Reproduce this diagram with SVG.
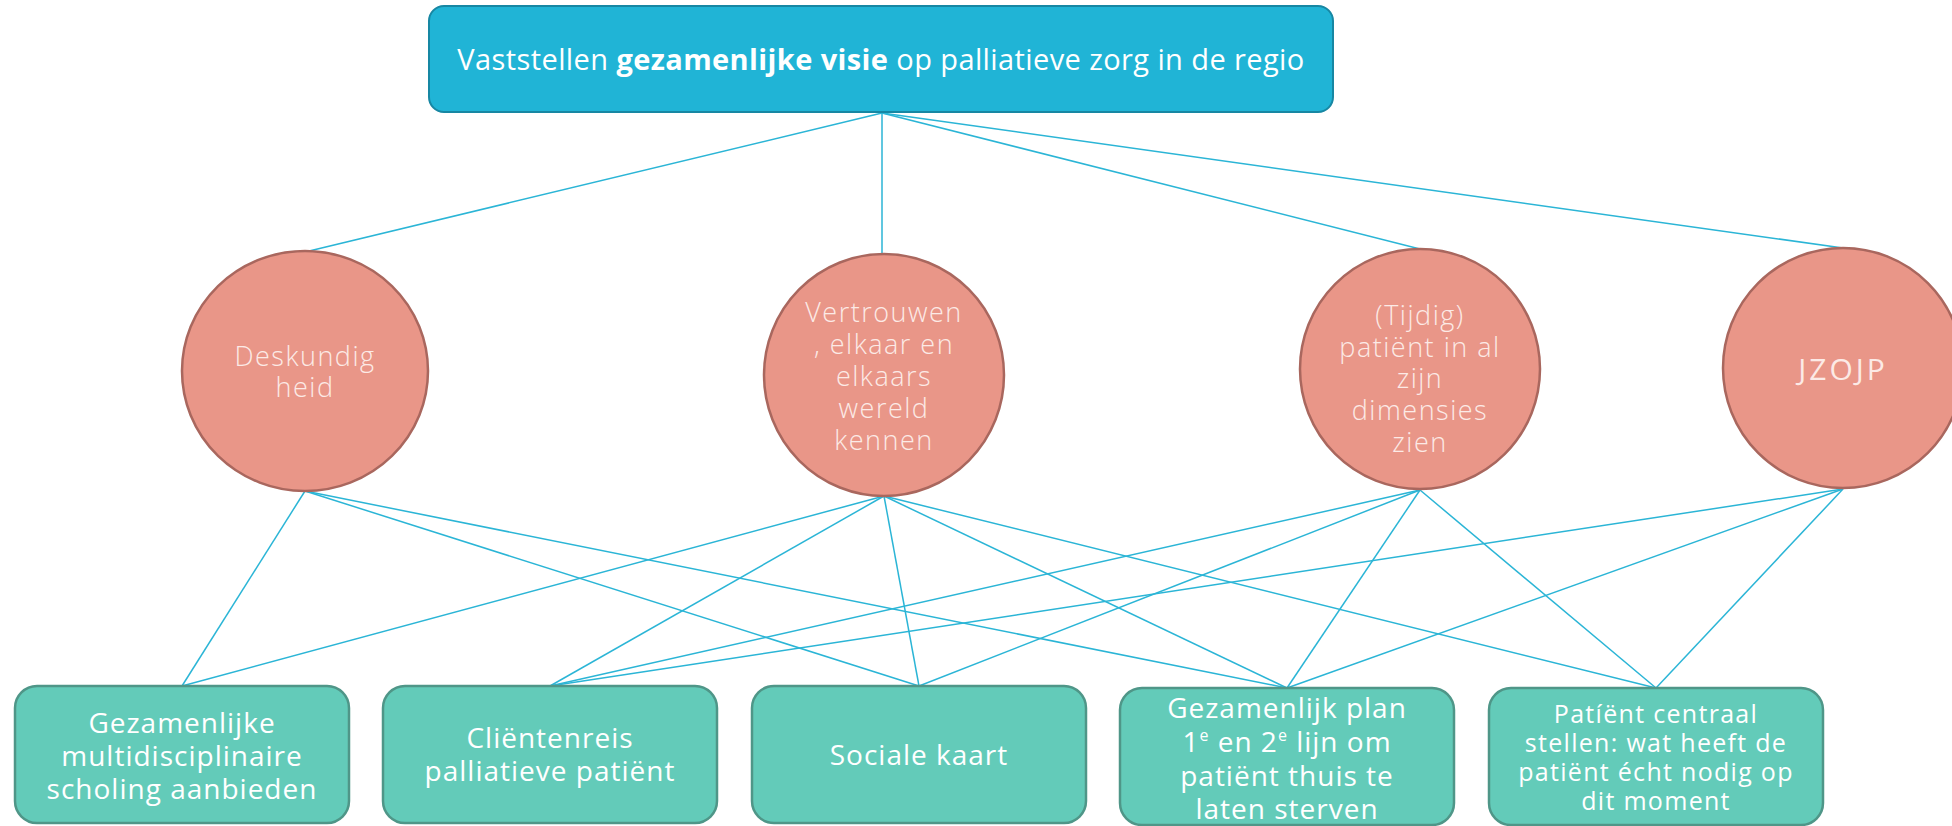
<svg xmlns="http://www.w3.org/2000/svg" width="1952" height="826" viewBox="0 0 1952 826">
<style>
.bg{fill:#ffffff}
.top{fill:#20B4D6;stroke:#1787A3;stroke-width:2}
.circ{fill:#E99688;stroke:#A9675E;stroke-width:2.5}
.box{fill:#63CBB9;stroke:#4F9688;stroke-width:2.5}
.conn line{stroke:#2BB5D6;stroke-width:1.5}
.t{font-family:"Open Sans","Noto Sans","DejaVu Sans",sans-serif;text-anchor:middle;fill:#ffffff}
.ct{font-family:"Open Sans","Noto Sans","DejaVu Sans",sans-serif;text-anchor:middle;fill:#FCEAE6;font-weight:300;font-size:27px;letter-spacing:1.5px}
.bt{font-size:28px;letter-spacing:1px}
.st{font-size:25px;letter-spacing:1.3px}
</style>
<rect class="bg" x="0" y="0" width="1952" height="826"/>
<g id="connectors" class="conn">
<line x1="882" y1="113" x2="305" y2="252"/>
<line x1="882" y1="113" x2="882" y2="254"/>
<line x1="882" y1="113" x2="1420" y2="249"/>
<line x1="882" y1="113" x2="1843" y2="248"/>
<line x1="305" y1="491" x2="182" y2="686"/>
<line x1="305" y1="491" x2="919" y2="686"/>
<line x1="305" y1="491" x2="1287" y2="688"/>
<line x1="884" y1="496" x2="182" y2="686"/>
<line x1="884" y1="496" x2="550" y2="686"/>
<line x1="884" y1="496" x2="919" y2="686"/>
<line x1="884" y1="496" x2="1287" y2="688"/>
<line x1="884" y1="496" x2="1656" y2="688"/>
<line x1="1420" y1="490" x2="550" y2="686"/>
<line x1="1420" y1="490" x2="919" y2="686"/>
<line x1="1420" y1="490" x2="1287" y2="688"/>
<line x1="1420" y1="490" x2="1656" y2="688"/>
<line x1="1843" y1="489" x2="550" y2="686"/>
<line x1="1843" y1="489" x2="1287" y2="688"/>
<line x1="1843" y1="489" x2="1656" y2="688"/>
</g>
<g id="top">
<rect class="top" x="429" y="6" width="904" height="106" rx="15"/>
<text class="t" x="881" y="70" font-size="29" letter-spacing="0.4">Vaststellen <tspan font-weight="700">gezamenlijke visie</tspan> op palliatieve zorg in de regio</text>
</g>
<g id="c1">
<ellipse class="circ" cx="305" cy="371" rx="123" ry="120"/>
<text class="ct" x="305" y="366">Deskundig</text>
<text class="ct" x="305" y="397">heid</text>
</g>
<g id="c2">
<ellipse class="circ" cx="884" cy="375" rx="120" ry="121"/>
<text class="ct" x="884" y="322">Vertrouwen</text>
<text class="ct" x="884" y="354">, elkaar en</text>
<text class="ct" x="884" y="386">elkaars</text>
<text class="ct" x="884" y="418">wereld</text>
<text class="ct" x="884" y="450">kennen</text>
</g>
<g id="c3">
<ellipse class="circ" cx="1420" cy="369" rx="120" ry="120"/>
<text class="ct" x="1420" y="325">(Tijdig)</text>
<text class="ct" x="1420" y="357">patiënt in al</text>
<text class="ct" x="1420" y="388">zijn</text>
<text class="ct" x="1420" y="420">dimensies</text>
<text class="ct" x="1420" y="452">zien</text>
</g>
<g id="c4">
<ellipse class="circ" cx="1843" cy="368" rx="120" ry="120"/>
<text class="ct" x="1843" y="380" style="font-weight:400;font-size:30px;letter-spacing:3px">JZOJP</text>
</g>
<g id="b1">
<rect class="box" x="15" y="686" width="334" height="137" rx="22"/>
<text class="t bt" x="182" y="733">Gezamenlijke</text>
<text class="t bt" x="182" y="766">multidisciplinaire</text>
<text class="t bt" x="182" y="799">scholing aanbieden</text>
</g>
<g id="b2">
<rect class="box" x="383" y="686" width="334" height="137" rx="22"/>
<text class="t bt" x="550" y="748">Cliëntenreis</text>
<text class="t bt" x="550" y="781">palliatieve patiënt</text>
</g>
<g id="b3">
<rect class="box" x="752" y="686" width="334" height="137" rx="22"/>
<text class="t bt" x="919" y="765">Sociale kaart</text>
</g>
<g id="b4">
<rect class="box" x="1120" y="688" width="334" height="137" rx="22"/>
<text class="t bt" x="1287" y="718">Gezamenlijk plan</text>
<text class="t bt" x="1287" y="752">1<tspan font-size="16" dy="-11">e</tspan><tspan dy="11"> en 2</tspan><tspan font-size="16" dy="-11">e</tspan><tspan dy="11"> lijn om</tspan></text>
<text class="t bt" x="1287" y="786">patiënt thuis te</text>
<text class="t bt" x="1287" y="819">laten sterven</text>
</g>
<g id="b5">
<rect class="box" x="1489" y="688" width="334" height="137" rx="22"/>
<text class="t st" x="1656" y="723">Patíënt centraal</text>
<text class="t st" x="1656" y="752">stellen: wat heeft de</text>
<text class="t st" x="1656" y="781">patiënt écht nodig op</text>
<text class="t st" x="1656" y="810">dit moment</text>
</g>
</svg>
